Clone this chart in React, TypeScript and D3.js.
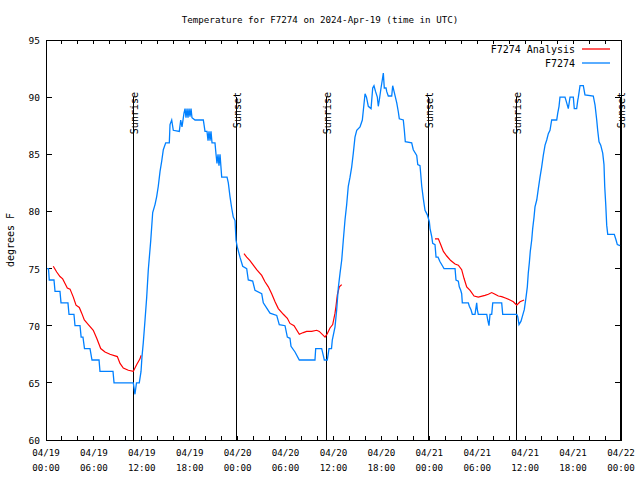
import React from "react";
import * as d3 from "d3";

const titleText = "Temperature for F7274 on 2024-Apr-19 (time in UTC)";
const yLabelText = "degrees F";
const yTicks = [60, 65, 70, 75, 80, 85, 90, 95];
const xMajorHours = [0, 6, 12, 18, 24, 30, 36, 42, 48, 54, 60, 66, 72];
const xMajorLabels = [
  ["04/19", "00:00"], ["04/19", "06:00"], ["04/19", "12:00"], ["04/19", "18:00"],
  ["04/20", "00:00"], ["04/20", "06:00"], ["04/20", "12:00"], ["04/20", "18:00"],
  ["04/21", "00:00"], ["04/21", "06:00"], ["04/21", "12:00"], ["04/21", "18:00"],
  ["04/22", "00:00"],
];
const xMinorHours = d3.range(0, 73, 2);

const sunHours = [10.93, 23.79, 35.0, 47.83, 58.85, 71.88];
const sunLabels = ["Sunrise", "Sunset", "Sunrise", "Sunset", "Sunrise", "Sunset"];

// Observations (hours since 04/19 00:00 UTC, degrees F)
const obsHours = [
  0.0, 0.31, 0.41, 1.0, 1.13, 1.75, 1.88, 2.75, 2.88, 3.5, 3.63, 4.26, 4.4, 4.63, 4.82, 5.51, 5.76, 6.64, 6.76, 8.39,
  8.52, 10.93, 11.14, 11.33, 11.68, 11.9, 12.02, 12.18, 12.4, 12.61, 12.81, 13.11, 13.36, 13.65, 13.86, 14.06, 14.28, 14.49, 14.69, 14.99,
  15.44, 15.53, 15.74, 15.94, 16.69, 16.87, 17.03, 17.28, 17.41, 17.53, 17.66, 17.78, 17.91, 18.03, 18.16, 18.28, 18.66, 19.7, 19.91, 20.16,
  20.29, 20.41, 20.54, 20.66, 20.79, 21.16, 21.29, 21.41, 21.54, 21.66, 21.79, 22.0, 22.67, 22.83, 23.04, 23.25, 23.45, 23.67, 23.79, 23.95,
  24.29, 24.63, 25.13, 25.33, 25.88, 26.17, 27.01, 27.21, 28.05, 28.89, 29.21, 29.93, 30.22, 30.55, 30.68, 31.18, 31.72, 33.68, 33.77, 34.52,
  34.72, 34.85, 35.22, 35.44, 35.75, 35.85, 36.19, 36.4, 36.6, 36.82, 37.03, 37.23, 37.44, 37.65, 37.85, 38.07, 38.28, 38.48, 38.69, 38.91,
  39.32, 39.61, 39.95, 40.13, 40.36, 40.7, 40.91, 41.07, 41.26, 41.49, 41.61, 41.74, 41.95, 42.11, 42.24, 42.36, 42.58, 42.66, 42.86, 43.29,
  43.41, 43.58, 43.92, 44.12, 44.24, 44.74, 44.87, 44.99, 45.79, 45.99, 46.42, 46.55, 46.83, 46.92, 47.05, 47.25, 47.46, 47.75, 48.0, 48.09,
  48.3, 48.42, 48.71, 48.84, 49.09, 49.34, 49.67, 49.84, 51.22, 51.34, 51.63, 51.75, 51.93, 52.05, 52.13, 52.88, 53.01, 53.22, 53.38, 53.72,
  53.93, 54.01, 54.13, 55.19, 55.31, 55.47, 55.6, 55.81, 55.94, 57.06, 57.19, 58.94, 59.07, 59.23, 59.48, 59.64, 59.89, 60.11, 60.27, 60.39,
  60.52, 60.64, 60.82, 60.94, 61.11, 61.23, 61.45, 61.65, 61.86, 62.07, 62.27, 62.49, 62.7, 62.9, 63.11, 63.32, 63.95, 64.08, 64.24, 64.36,
  64.99, 65.2, 65.4, 65.62, 66.03, 66.15, 66.45, 66.58, 66.66, 66.87, 67.28, 67.49, 68.53, 68.75, 68.96, 69.08, 69.25, 69.46, 69.71, 69.87,
  69.96, 70.09, 70.21, 70.34, 71.16, 71.38, 71.54, 71.88,
];
const obsTemps = [
  75, 75, 74, 74, 73, 73, 72, 72, 71, 71, 70, 70, 69, 69, 68, 68, 67, 67, 66, 66,
  65, 65, 64, 65, 65, 66, 67.3, 68.5, 70.5, 72.5, 74.9, 77.4, 79.9, 80.6, 81.3, 82.2, 83.5, 84.4, 85.4, 86,
  86, 87.6, 88, 87.1, 87, 88, 87.4, 88.6, 89, 88.2, 89, 88.2, 89, 88.3, 89, 88.2, 88, 88, 87, 87,
  86.2, 87, 86.2, 87, 86, 86, 85, 84.2, 85, 84, 85, 83, 83, 82.5, 81.3, 80.3, 79.5, 79.2, 77.5, 76.9,
  76, 75.2, 75, 74, 73.9, 73.1, 72.8, 72, 71.1, 70.9, 70.1, 70, 69, 68.9, 68.2, 67.7, 67, 67, 68, 68,
  67.4, 67, 67, 68, 68, 68.75, 69.9, 71.4, 73.3, 74.6, 75.75, 77.5, 79.25, 80.6, 82.2, 83, 83.9, 85.1, 86.5, 87.1,
  87.4, 88, 90.3, 90, 89.2, 89, 90.8, 91, 90.5, 90, 89.2, 89.75, 90.8, 91.5, 92.1, 90.8, 90.8, 90.5, 90.1, 90.1,
  91, 90.5, 89.5, 88.7, 88.1, 88, 87.1, 86.1, 86, 85.4, 84.9, 84.1, 84, 83.3, 82.2, 81.1, 80.1, 79.7, 79.1, 78.5,
  77.8, 77.2, 77.1, 76, 76, 75.6, 75.2, 75, 75, 74, 73.9, 73.4, 73.1, 72.8, 72, 72, 71.7, 71.4, 71, 71,
  72, 71.4, 71, 71, 70.5, 70, 71, 71, 72, 72, 71, 71, 70.8, 70.1, 70.4, 70.8, 71.4, 72.5, 73.4, 74.6,
  75.5, 76.5, 77.5, 78.5, 79.5, 80.4, 81, 82, 83, 83.9, 84.9, 85.8, 86.25, 86.8, 87.1, 88, 88, 88.6, 89.2, 90,
  90, 89.5, 89, 90, 90, 89, 89, 89.7, 90, 91, 91, 90.2, 90.1, 89.3, 88, 87.1, 86.1, 85.8, 85.1, 84.1,
  82.2, 80.6, 78.8, 78, 78, 77.5, 77.1, 77,
];

// Analysis (three overnight segments)
const anaHours1 = [0.91, 1.34, 1.75, 2.09, 2.38, 2.67, 3.01, 3.42, 3.76, 4.17, 4.47, 4.8, 5.3, 5.92, 6.35, 6.85, 7.39, 8.01, 8.93, 9.27, 9.68, 10.31, 10.93, 11.36, 11.77, 11.9];
const anaTemps1 = [75.2, 74.7, 74.3, 74.1, 73.7, 73.3, 73.2, 72.5, 71.8, 71.6, 71.1, 70.5, 70.1, 69.6, 68.9, 68.0, 67.7, 67.5, 67.3, 66.7, 66.3, 66.1, 66.0, 66.6, 67.1, 67.4];
const anaHours2 = [24.79, 25.13, 25.54, 25.96, 26.38, 27.01, 27.42, 27.84, 28.26, 28.68, 29.09, 29.72, 30.22, 30.55, 31.06, 31.72, 32.22, 32.64, 33.27, 33.9, 34.22, 34.94, 35.22, 35.56, 35.9, 36.19, 36.31, 36.48, 36.73, 37.03];
const anaTemps2 = [76.3, 76.0, 75.7, 75.3, 74.9, 74.4, 73.85, 73.4, 72.8, 72.1, 71.5, 71.0, 70.65, 70.2, 70.0, 69.25, 69.4, 69.5, 69.5, 69.6, 69.5, 69.0, 69.3, 69.8, 70.1, 71.1, 71.7, 72.7, 73.4, 73.6];
const anaHours3 = [48.71, 49.13, 49.42, 49.76, 50.18, 50.68, 51.22, 51.63, 52.05, 52.34, 52.68, 53.1, 53.6, 54.13, 54.97, 55.39, 55.81, 56.23, 56.64, 57.06, 57.6, 58.1, 58.52, 58.94, 59.36, 59.86];
const anaTemps3 = [77.6, 77.6, 77.1, 76.5, 76.1, 75.7, 75.4, 75.3, 74.9, 74.15, 73.4, 73.1, 72.6, 72.5, 72.65, 72.75, 72.9, 72.75, 72.6, 72.55, 72.4, 72.25, 72.1, 71.8, 72.1, 72.25];

const legendNames = ["F7274 Analysis", "F7274"];
const colors = ["#ff0000", "#0080ff"];

const W = 640, H = 480;
const L = 46, R = 621, T = 40, B = 440;
const FONT = "'DejaVu Sans Mono', 'Liberation Mono', monospace";

export default function App() {
  const x = d3.scaleLinear().domain([0, 72]).range([L, R]);
  const y = d3.scaleLinear().domain([60, 95]).range([B, T]);
  const line = d3.line<[number, number]>().x(d => x(d[0])).y(d => y(d[1]));
  const obs = obsHours.map((h, i) => [h, obsTemps[i]] as [number, number]);
  const anaSegs = [
    [anaHours1, anaTemps1],
    [anaHours2, anaTemps2],
    [anaHours3, anaTemps3],
  ].map(([hs, ts]) => hs.map((h, i) => [h, ts[i]] as [number, number]));

  return (
    <svg width={W} height={H} style={{ position: "absolute", left: 0, top: 0, background: "#fff" }} fontFamily={FONT}>
      <rect x={0} y={0} width={W} height={H} fill="#fff" />
      <text x={320} y={23} textAnchor="middle" fontSize={9.2} fill="#000">{titleText}</text>
      <text transform={`translate(14,${(T + B) / 2}) rotate(-90)`} textAnchor="middle" fontSize={10} fill="#000">{yLabelText}</text>

      {/* y ticks */}
      <g shapeRendering="crispEdges" stroke="#000">
        {yTicks.map(v => (
          <g key={v}>
            <line x1={L} x2={L + 6} y1={y(v)} y2={y(v)} />
            <line x1={R - 6} x2={R} y1={y(v)} y2={y(v)} />
          </g>
        ))}
        {xMinorHours.map(h => (
          <g key={h}>
            <line x1={x(h)} x2={x(h)} y1={B} y2={B - 4} />
            <line x1={x(h)} x2={x(h)} y1={T} y2={T + 4} />
          </g>
        ))}
      </g>
      {yTicks.map(v => (
        <text key={v} x={L - 6} y={y(v) + 4} textAnchor="end" fontSize={9.5} fill="#000">{v}</text>
      ))}
      {xMajorHours.map((h, i) => (
        <g key={h}>
          <text x={x(h)} y={456} textAnchor="middle" fontSize={9.2} fill="#000">{xMajorLabels[i][0]}</text>
          <text x={x(h)} y={471} textAnchor="middle" fontSize={9.2} fill="#000">{xMajorLabels[i][1]}</text>
        </g>
      ))}

      {/* sunrise / sunset */}
      {sunHours.map((h, i) => (
        <g key={i}>
          <line x1={Math.round(x(h)) + 0.5} x2={Math.round(x(h)) + 0.5} y1={97} y2={B} stroke="#000" strokeWidth={1} />
          <text transform={`translate(${x(h) + 5},92) rotate(-90)`} textAnchor="end" fontSize={10} fill="#000">{sunLabels[i]}</text>
        </g>
      ))}

      {/* data */}
      {anaSegs.map((seg, i) => (
        <path key={i} d={line(seg) || ""} fill="none" stroke={colors[0]} strokeWidth={1.2} />
      ))}
      <path d={line(obs) || ""} fill="none" stroke={colors[1]} strokeWidth={1.3} />

      {/* frame */}
      <rect x={L + 0.5} y={T + 0.5} width={R - L} height={B - T} fill="none" stroke="#000" shapeRendering="crispEdges" />

      {/* legend */}
      {legendNames.map((n, i) => (
        <g key={n}>
          <text x={575} y={53 + i * 14} textAnchor="end" fontSize={10} fill="#000">{n}</text>
          <line x1={582} x2={610} y1={49 + i * 14} y2={49 + i * 14} stroke={colors[i]} strokeWidth={1.3} />
        </g>
      ))}
    </svg>
  );
}
